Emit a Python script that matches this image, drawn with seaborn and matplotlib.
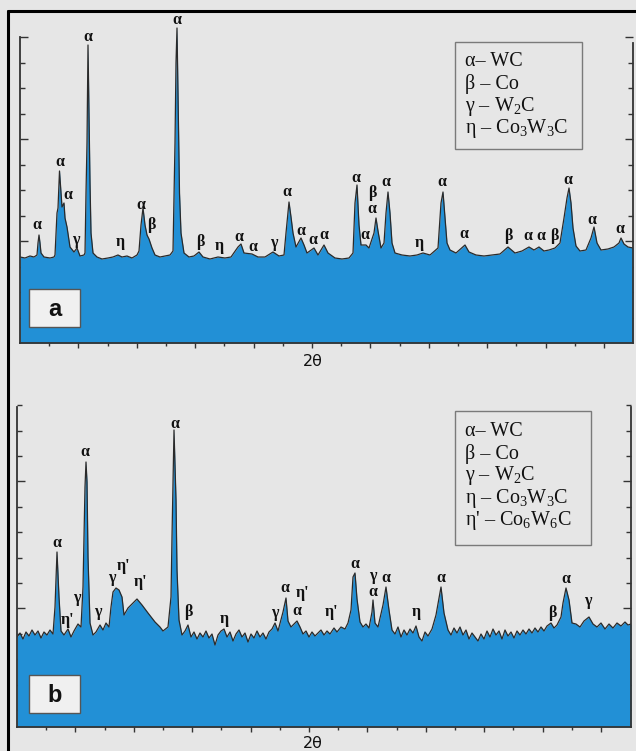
import matplotlib
matplotlib.use("Agg")
import matplotlib.pyplot as plt
import seaborn as sns
from matplotlib.patches import Rectangle
from matplotlib.lines import Line2D

# ---------------- data (arbitrary channel / counts units) -------------
chan_a = [0, 5, 10, 14, 17, 18, 19, 20, 21, 24, 30, 34, 35, 37, 38, 39.5, 41, 42, 44, 45, 47, 50, 54, 57, 60,
          64, 65, 66, 67, 68, 69, 70, 71, 73, 77, 82, 88, 93, 98, 102, 107, 112, 117, 119, 121, 123, 125, 127,
          129, 132, 135, 140, 145, 150, 153, 155, 156, 157, 158, 159.5, 161, 164, 169, 174, 179, 183, 190, 198,
          205, 211, 218, 221, 224, 232, 238, 245, 253, 259, 264, 266, 269, 271, 273, 276, 281, 284, 287, 294,
          298, 304, 308, 315, 322, 329, 333, 335, 337, 339, 341, 346, 349, 354, 356, 358, 361, 364, 366, 368,
          370, 372, 375, 382, 390, 397, 403, 410, 418, 421, 423, 425, 427, 430, 436, 445, 449, 456, 464, 472,
          480, 488, 495, 502, 509, 514, 519, 524, 529, 535, 540, 544, 547, 549, 551, 553, 556, 560, 566, 571,
          574, 577, 581, 588, 594, 599, 601, 604, 608, 613]
counts_a = [86, 85, 87, 86, 88, 100, 108, 100, 90, 86, 85, 86, 88, 130, 135, 172, 150, 136, 140, 125, 116, 96, 91,
            95, 87, 88, 90, 150, 200, 298, 230, 160, 110, 90, 86, 84, 85, 86, 88, 86, 87, 85, 88, 92, 118, 135,
            118, 108, 104, 95, 88, 86, 87, 88, 92, 200, 280, 315, 250, 150, 110, 90, 86, 87, 91, 86, 84, 86, 85,
            86, 96, 99, 90, 89, 86, 86, 91, 87, 88, 110, 141, 126, 110, 96, 105, 98, 90, 95, 88, 98, 90, 85, 84,
            85, 90, 140, 158, 118, 98, 98, 95, 110, 125, 112, 95, 100, 130, 151, 130, 100, 90, 88, 87, 88, 90, 88,
            95, 140, 151, 125, 100, 93, 90, 98, 91, 88, 87, 88, 89, 96, 90, 92, 96, 93, 96, 92, 93, 95, 100, 125,
            145, 155, 140, 115, 97, 92, 93, 105, 116, 100, 93, 94, 96, 100, 105, 99, 96, 95]

chan_b = [0, 3, 6, 9, 12, 15, 18, 21, 24, 27, 30, 33, 36, 38, 40, 42, 44, 47, 51, 54, 57, 61, 64, 66, 68, 69, 70,
          71, 73, 76, 79, 83, 86, 89, 92, 94, 96, 99, 102, 105, 107, 111, 116, 120, 125, 131, 138, 143, 146, 151,
          154, 155, 157, 159, 160, 162, 165, 168, 171, 174, 177, 180, 183, 186, 189, 192, 195, 198, 201, 204, 207,
          210, 213, 216, 219, 222, 225, 228, 231, 234, 237, 240, 243, 246, 249, 252, 255, 258, 261, 266, 269, 271,
          274, 280, 283, 286, 289, 292, 295, 298, 301, 304, 307, 310, 313, 317, 320, 324, 328, 331, 334, 336, 338,
          340, 343, 346, 349, 352, 355, 356, 358, 361, 366, 369, 372, 375, 378, 381, 384, 387, 390, 393, 396, 399,
          402, 405, 408, 411, 415, 419, 424, 427, 431, 434, 437, 440, 443, 446, 449, 452, 455, 458, 461, 464, 467,
          470, 473, 476, 479, 482, 485, 488, 491, 494, 497, 500, 503, 506, 509, 512, 515, 518, 521, 524, 527, 530,
          534, 537, 540, 544, 546, 549, 552, 555, 559, 563, 567, 572, 576, 580, 584, 588, 592, 596, 600, 604, 608,
          611, 614]
counts_b = [90, 94, 88, 95, 91, 97, 92, 96, 89, 95, 92, 97, 93, 120, 175, 130, 96, 92, 98, 90, 96, 103, 100, 140,
            240, 265, 245, 170, 104, 92, 95, 102, 97, 104, 100, 120, 135, 139, 137, 130, 112, 119, 124, 128, 122,
            114, 105, 100, 96, 100, 130, 190, 297, 227, 157, 107, 92, 96, 102, 90, 95, 88, 94, 90, 96, 89, 93, 82,
            92, 96, 98, 90, 95, 86, 93, 97, 90, 94, 85, 93, 89, 96, 90, 94, 88, 95, 98, 104, 96, 115, 129, 106,
            100, 106, 100, 93, 96, 90, 95, 91, 94, 97, 92, 96, 93, 99, 95, 100, 98, 104, 117, 150, 154, 128, 105,
            100, 103, 99, 115, 127, 104, 100, 122, 140, 117, 97, 93, 100, 90, 97, 92, 98, 94, 101, 90, 86, 95, 91,
            98, 112, 140, 114, 97, 92, 99, 94, 100, 92, 97, 88, 94, 90, 86, 93, 88, 96, 90, 98, 92, 96, 88, 97,
            91, 95, 89, 96, 92, 97, 93, 98, 94, 99, 95, 100, 96, 101, 104, 99, 102, 110, 124, 139, 127, 104, 103,
            100, 106, 110, 103, 100, 104, 98, 103, 99, 104, 101, 105, 102, 103]

# peak labels: phase symbol, channel, counts
peak_sym_a = ["α", "α", "α", "γ", "α", "η", "α", "β", "α", "β", "η", "α", "α", "γ", "α", "α", "α",
              "α", "α", "α", "β", "α", "α", "η", "α", "α", "β", "α", "α", "β", "α", "α", "α"]
peak_x_a = [17, 40, 48, 56, 68, 100, 121, 131, 157, 180, 199, 219, 233, 254, 267, 281, 293,
            304, 336, 345, 352, 352, 366, 399, 422, 444, 488, 508, 521, 534, 548, 572, 600]
peak_y_a = [118, 181, 148, 103, 306, 101, 138, 118, 323, 101, 97, 106, 96, 100, 151, 112, 103,
            108, 165, 108, 150, 134, 161, 100, 161, 109, 107, 107, 107, 107, 163, 123, 114]

peak_sym_b = ["α", "η'", "γ", "α", "γ", "γ", "η'", "η'", "α", "β", "η", "γ", "α", "η'", "α",
              "η'", "α", "γ", "α", "α", "η", "α", "β", "α", "γ"]
peak_x_b = [40, 51, 60, 68, 81, 95, 107, 124, 158, 171, 207, 258, 268, 286, 280,
            315, 338, 356, 356, 369, 399, 424, 535, 549, 571]
peak_y_b = [184, 107, 129, 275, 115, 149, 161, 145, 303, 115, 108, 114, 139, 134, 116,
            115, 163, 151, 135, 149, 115, 149, 114, 148, 126]

legend_a = ["α– WC", "β – Co", "γ – W$_2$C", "η – Co$_3$W$_3$C"]
legend_b = ["α– WC", "β – Co", "γ – W$_2$C", "η – Co$_3$W$_3$C", "η' – Co$_6$W$_6$C"]
panel_names = ["a", "b"]
axis_title = "2θ"

# ---------------- style ----------------
sns.set_theme(style="ticks")
BG = "#e6e6e6"
BLUE = "#2290d6"
plt.rcParams["mathtext.fontset"] = "custom"
plt.rcParams["mathtext.rm"] = "Liberation Serif"
plt.rcParams["mathtext.it"] = "Liberation Serif:italic"
plt.rcParams["mathtext.bf"] = "Liberation Serif:bold"

W, H = 636, 751
fig = plt.figure(figsize=(W / 100, H / 100), dpi=100, facecolor=BG)


def rect(l, t, r, b):
    return [l / W, 1 - b / H, (r - l) / W, (b - t) / H]


def fx(x):
    return x / W


def fy(y):
    return 1 - y / H


def draw_panel(box, xmax, ymax, chan, counts, syms, px, py, left_top, right_top,
               ytick_start, ytick_step, ytick_n, ymajor_idx):
    ax = fig.add_axes(rect(*box))
    ax.set_facecolor("none")
    ax.fill_between(chan, counts, 0, color=BLUE, lw=0, zorder=1)
    sns.lineplot(x=chan, y=counts, ax=ax, color="#2a2a2a", lw=0.9, estimator=None, sort=False, zorder=2)
    ax.set_xlim(0, xmax)
    ax.set_ylim(0, ymax)
    ax.set_xlabel("")
    ax.set_ylabel("")
    for s in ["left", "right", "bottom"]:
        ax.spines[s].set_color("#333333")
        ax.spines[s].set_linewidth(1.3)
    ax.spines["top"].set_visible(False)
    ax.spines["left"].set_bounds(0, left_top)
    ax.spines["right"].set_bounds(0, right_top)
    # x ticks
    step = 29.2
    allx = [step * k for k in range(1, 21)]
    majx = [step * k for k in range(2, 21, 2)]
    minx = [v for i, v in enumerate(allx) if (i + 1) % 2 == 1]
    ax.set_xticks(majx)
    ax.set_xticks(minx, minor=True)
    ax.tick_params(axis="x", which="major", direction="inout", length=7, width=1.0, color="#333333",
                   labelbottom=False)
    ax.tick_params(axis="x", which="minor", direction="inout", length=5, width=1.0, color="#333333")
    # y ticks
    ally = [ytick_start + ytick_step * k for k in range(ytick_n)]
    majy = [ally[i] for i in ymajor_idx]
    miny = [v for i, v in enumerate(ally) if i not in ymajor_idx]
    ax.set_yticks(majy)
    ax.set_yticks(miny, minor=True)
    ax.yaxis.set_ticks_position("both")
    ax.tick_params(axis="y", which="major", direction="in", length=6, width=1.0, color="#333333",
                   labelleft=False, labelright=False, left=True, right=True)
    ax.tick_params(axis="y", which="minor", direction="in", length=3.5, width=1.0, color="#333333",
                   left=True, right=True)
    for s, x, y in zip(syms, px, py):
        ax.text(x, y, s, ha="center", va="center", fontsize=11.5, fontweight="bold",
                family="Liberation Serif", color="#111111", clip_on=False, zorder=5)
    return ax


ax_a = draw_panel((20, 8, 633, 343), 613, 335, chan_a, counts_a, peak_sym_a, peak_x_a, peak_y_a,
                  306, 300, 25.5, 25.5, 12, [3, 7, 11])
ax_b = draw_panel((17, 395, 631, 727), 614, 332, chan_b, counts_b, peak_sym_b, peak_x_b, peak_y_b,
                  320, 320, 17, 25.4, 13, [4, 9])


def fig_box(l, t, r, b, face, edge, lw):
    fig.add_artist(Rectangle((fx(l), fy(b)), (r - l) / W, (b - t) / H, transform=fig.transFigure,
                             facecolor=face, edgecolor=edge, lw=lw, zorder=10))


# panel letter boxes
for (l, t, r, b), name in zip([(29, 289, 80, 327), (29, 675, 80, 713)], panel_names):
    fig_box(l, t, r, b, "#f0f0f0", "#555555", 1.0)
    fig.text(fx((l + r) / 2), fy((t + b) / 2 + 1), name, ha="center", va="center", fontsize=17,
             fontweight="bold", family="Liberation Sans", color="#111111", zorder=11)

# legend boxes
for (l, t, r, b), lines, ys in [((455, 42, 582, 149), legend_a, [62, 84, 106, 128]),
                                ((455, 411, 591, 545), legend_b, [432, 454, 476, 498, 520])]:
    fig_box(l, t, r, b, BG, "#7a7a7a", 1.0)
    for txt, y in zip(lines, ys):
        fig.text(fx(465), fy(y), txt, ha="left", va="center", fontsize=14.5,
                 family="Liberation Serif", color="#111111", zorder=11)

# axis titles
fig.text(fx(313), fy(362), axis_title, ha="center", va="center", fontsize=11.5, color="#111111")
fig.text(fx(313), fy(744), axis_title, ha="center", va="center", fontsize=11.5, color="#111111")

# outer frame (top and left edges)
fig.add_artist(Line2D([fx(8), fx(636)], [fy(11), fy(11)], transform=fig.transFigure, color="#000000", lw=2.2))
fig.add_artist(Line2D([fx(8), fx(8)], [fy(11), fy(751)], transform=fig.transFigure, color="#000000", lw=2.2))

fig.savefig("out.png", dpi=100, facecolor=BG)
